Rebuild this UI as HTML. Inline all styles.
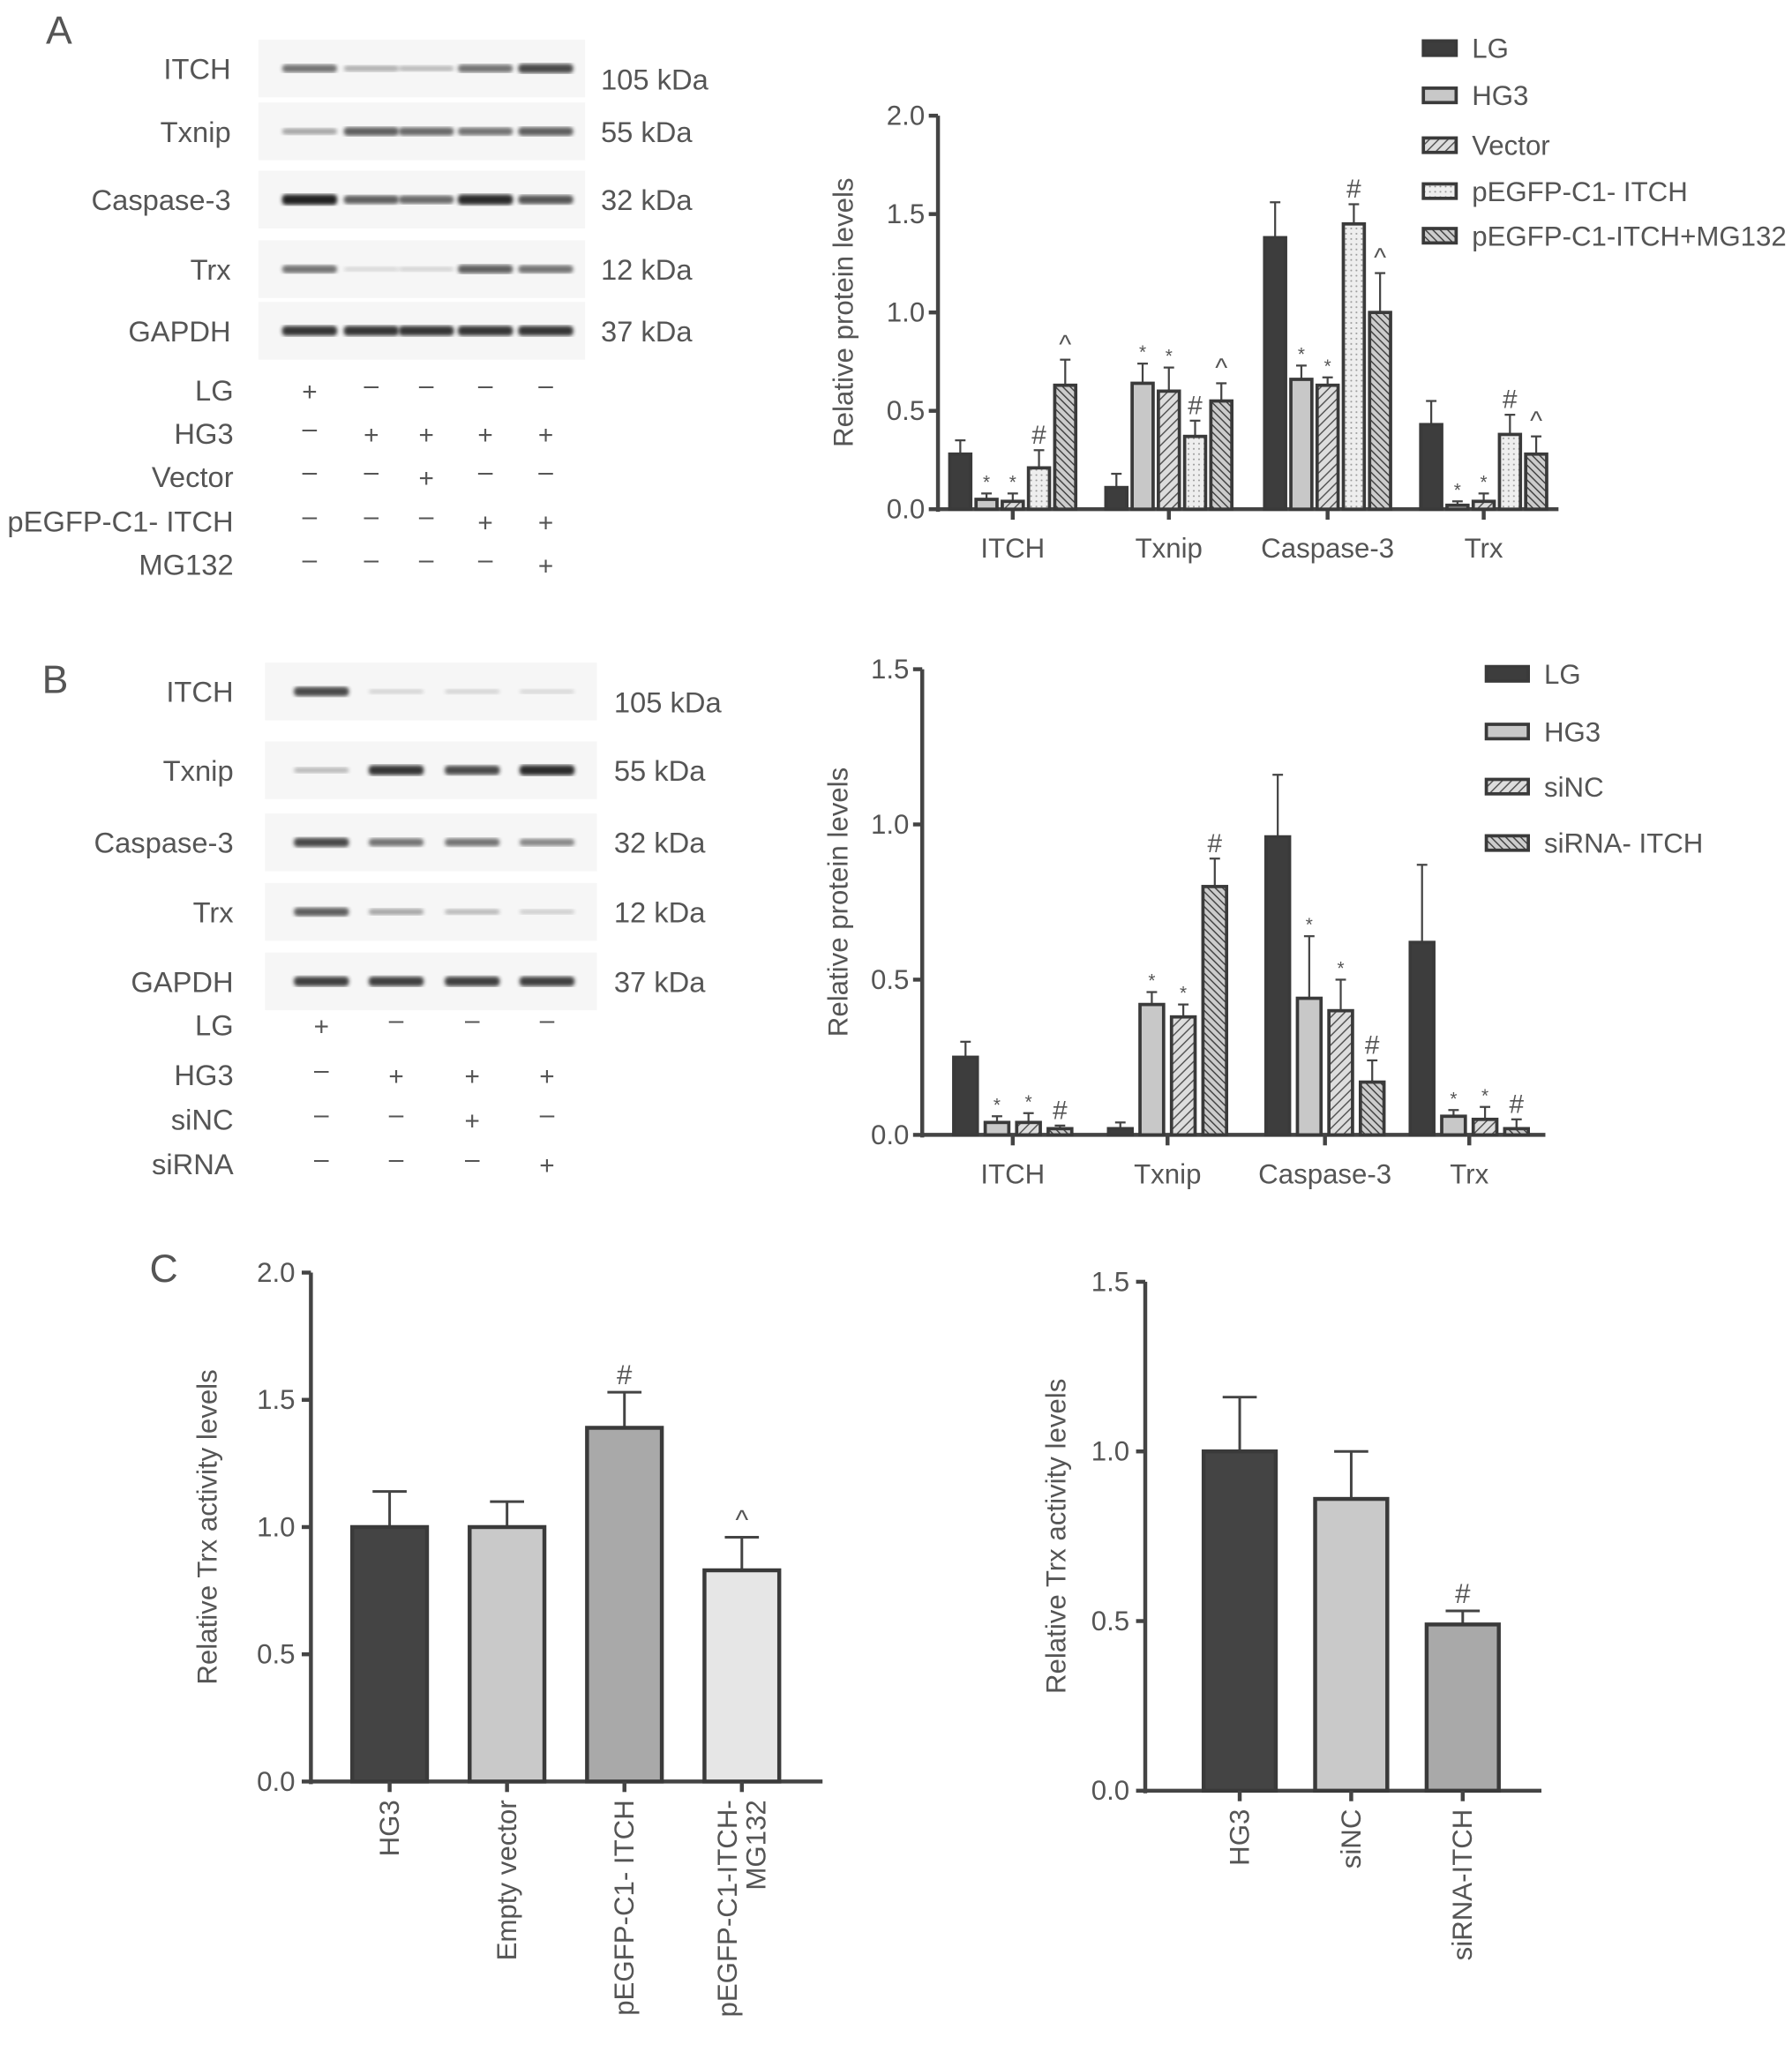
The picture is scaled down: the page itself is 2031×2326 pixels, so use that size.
<!DOCTYPE html>
<html><head><meta charset="utf-8"><style>
html,body{margin:0;padding:0;background:#fff}
svg{display:block}
text{font-family:"Liberation Sans",sans-serif;fill:#555}
</style></head><body>
<svg id="s" width="2031" height="2326" viewBox="0 0 1366 1564" xmlns="http://www.w3.org/2000/svg">
<defs>
<pattern id="hatchA" width="5" height="5" patternUnits="userSpaceOnUse" patternTransform="rotate(45)"><rect width="5" height="5" fill="#ddd"/><line x1="0" y1="0" x2="0" y2="5" stroke="#555" stroke-width="2"/></pattern>
<pattern id="hatchB" width="4" height="4" patternUnits="userSpaceOnUse" patternTransform="rotate(-45)"><rect width="4" height="4" fill="#ccc"/><line x1="0" y1="0" x2="0" y2="4" stroke="#444" stroke-width="2"/></pattern>
<pattern id="dots" width="4" height="4" patternUnits="userSpaceOnUse"><rect width="4" height="4" fill="#eee"/><circle cx="2" cy="2" r="0.7" fill="#999"/></pattern>
<filter id="blur"><feGaussianBlur stdDeviation="1.4"/></filter>
</defs>
<text x="35" y="33" font-size="30">A</text>
<text x="32" y="528" font-size="30">B</text>
<text x="114" y="977" font-size="30">C</text>
</svg>
<script>
const NS="http://www.w3.org/2000/svg";
const S=document.getElementById('s');
function mk(tag,attrs,parent){const e=document.createElementNS(NS,tag);for(const k in attrs)e.setAttribute(k,attrs[k]);(parent||S).appendChild(e);return e;}
function txt(x,y,s,size,anchor,parent){const t=mk('text',{x:x,y:y,'font-size':size,'text-anchor':anchor||'start'},parent);t.textContent=s;return t;}

// ---------- Data ----------
const catsAB=["ITCH","Txnip","Caspase-3","Trx"];
const seriesA=["LG","HG3","Vector","pEGFP-C1- ITCH","pEGFP-C1-ITCH+MG132"];
const aLG=[0.28,0.11,1.38,0.43];
const aHG3=[0.05,0.64,0.66,0.02];
const aVec=[0.04,0.60,0.63,0.04];
const aPE=[0.21,0.37,1.45,0.38];
const aMG=[0.63,0.55,1.00,0.28];
const aLGe=[0.07,0.07,0.18,0.12];
const aHG3e=[0.03,0.10,0.07,0.02];
const aVece=[0.04,0.12,0.04,0.04];
const aPEe=[0.09,0.08,0.10,0.10];
const aMGe=[0.13,0.09,0.20,0.09];
const aMarks=["","*","*","#","^"];
const yTicksA=["0.0","0.5","1.0","1.5","2.0"];

const seriesB=["LG","HG3","siNC","siRNA- ITCH"];
const bLG=[0.25,0.02,0.96,0.62];
const bHG3=[0.04,0.42,0.44,0.06];
const bNC=[0.04,0.38,0.40,0.05];
const bSi=[0.02,0.80,0.17,0.02];
const bLGe=[0.05,0.02,0.20,0.25];
const bHG3e=[0.02,0.04,0.20,0.02];
const bNCe=[0.03,0.04,0.10,0.04];
const bSie=[0.01,0.09,0.07,0.03];
const bMarks=["","*","*","#"];
const yTicksB=["0.0","0.5","1.0","1.5"];

const catsC1=["HG3","Empty vector","pEGFP-C1- ITCH","pEGFP-C1-ITCH-|MG132"];
const valsC1=[1.00,1.00,1.39,0.83];
const errC1=[0.14,0.10,0.14,0.13];
const marksC1=["","","#","^"];
const catsC2=["HG3","siNC","siRNA-ITCH"];
const valsC2=[1.00,0.86,0.49];
const errC2=[0.16,0.14,0.04];
const marksC2=["","","#"];

function grouped(cfg){
  const g=mk('g',{});
  
  
  const y=v=>cfg.y0-(v/cfg.max)*(cfg.y0-cfg.yTop);
  const ax=mk('line',{x1:cfg.ax,y1:cfg.yTop,x2:cfg.ax,y2:cfg.y0+2,stroke:'#444','stroke-width':3},g);
  
  const xa=mk('line',{x1:cfg.ax,y1:cfg.y0,x2:cfg.xEnd,y2:cfg.y0,stroke:'#444','stroke-width':3},g);
  
  cfg.ticks.forEach((t,i)=>{const v=parseFloat(t);const yy=y(v);
    mk('line',{x1:cfg.ax-7,y1:yy,x2:cfg.ax,y2:yy,stroke:'#444','stroke-width':3},g);
    const tl=txt(cfg.ax-10,yy+7,t,21,'end',g);});
  const yl=txt(0,0,cfg.ylabel,21,'middle',g);
  yl.setAttribute('transform',`translate(${cfg.ylx},${(cfg.y0+cfg.yTop)/2}) rotate(-90)`);
  
  const ns=cfg.vals.length;
  cfg.cats.forEach((c,ci)=>{
    const cx=cfg.centers[ci];
    mk('line',{x1:cx,y1:cfg.y0,x2:cx,y2:cfg.y0+8,stroke:'#444','stroke-width':3},g);
    const cl=txt(cx,cfg.y0+37,c,21,'middle',g);
    for(let s=0;s<ns;s++){
      const bx=cx+(s-(ns-1)/2)*cfg.step-cfg.bw/2;
      const v=cfg.vals[s][ci],e=cfg.errs[s][ci];
      const top=y(v+e);
      mk('line',{x1:bx+cfg.bw/2,y1:y(v),x2:bx+cfg.bw/2,y2:top,stroke:'#444','stroke-width':1.5},g);
      mk('line',{x1:bx+cfg.bw/2-4,y1:top,x2:bx+cfg.bw/2+4,y2:top,stroke:'#444','stroke-width':1.5},g);
      const r=mk('rect',{x:bx,y:y(v),width:cfg.bw,height:Math.max(0,cfg.y0-y(v)),fill:cfg.fills[s],stroke:'#3a3a3a','stroke-width':2.5},g);
      
      if(cfg.marks[s]){const m=txt(bx+cfg.bw/2,top-(cfg.marks[s]=='*'?4:5),cfg.marks[s],cfg.marks[s]=='*'?14:20,'middle',g);}
    }
  });
  cfg.series.forEach((s,i)=>{
    const ly=cfg.legY[i];
    const sw=mk('rect',{x:cfg.legX,y:ly-6,width:cfg.legW,height:11,fill:cfg.fills[i],stroke:'#3a3a3a','stroke-width':2.5},g);
    
    const lt=txt(cfg.legX+cfg.legW+12,ly+7,s,21,'start',g);
  });
}
grouped({name:'chart-a',ax:715,y0:388,yTop:88,max:2,xEnd:1188,ticks:yTicksA,ylabel:'Relative protein levels',ylx:650,
  cats:catsAB,centers:[772,891,1012,1131],step:20,bw:16,
  vals:[aLG,aHG3,aVec,aPE,aMG],errs:[aLGe,aHG3e,aVece,aPEe,aMGe],marks:aMarks,
  fills:['#3d3d3d','#c8c8c8','url(#hatchA)','url(#dots)','url(#hatchB)'],
  series:seriesA,legX:1085,legW:25,legY:[37,73,111,146,180]});
grouped({name:'chart-b',ax:703,y0:865,yTop:510,max:1.5,xEnd:1178,ticks:yTicksB,ylabel:'Relative protein levels',ylx:646,
  cats:catsAB,centers:[772,890,1010,1120],step:24,bw:18,
  vals:[bLG,bHG3,bNC,bSi],errs:[bLGe,bHG3e,bNCe,bSie],marks:bMarks,
  fills:['#3d3d3d','#c8c8c8','url(#hatchA)','url(#hatchB)'],
  series:seriesB,legX:1133,legW:32,legY:[514,558,600,643]});

function simple(cfg){
  const g=mk('g',{});
  
  
  const y=v=>cfg.y0-(v/cfg.max)*(cfg.y0-cfg.yTop);
  mk('line',{x1:cfg.ax,y1:cfg.yTop,x2:cfg.ax,y2:cfg.y0+2,stroke:'#444','stroke-width':3},g);
  mk('line',{x1:cfg.ax,y1:cfg.y0,x2:cfg.xEnd,y2:cfg.y0,stroke:'#444','stroke-width':3},g);
  cfg.ticks.forEach(t=>{const yy=y(parseFloat(t));
    mk('line',{x1:cfg.ax-7,y1:yy,x2:cfg.ax,y2:yy,stroke:'#444','stroke-width':3},g);
    const tl=txt(cfg.ax-12,yy+7,t,21,'end',g);});
  const yl=txt(0,0,'Relative Trx activity levels',21,'middle',g);
  yl.setAttribute('transform',`translate(${cfg.ylx},${(cfg.y0+cfg.yTop)/2}) rotate(-90)`);
  
  cfg.cats.forEach((c,i)=>{
    const cx=cfg.x0+i*cfg.step,v=cfg.vals[i],e=cfg.errs[i],top=y(v+e);
    mk('line',{x1:cx,y1:y(v),x2:cx,y2:top,stroke:'#444','stroke-width':2},g);
    mk('line',{x1:cx-13,y1:top,x2:cx+13,y2:top,stroke:'#444','stroke-width':2},g);
    const r=mk('rect',{x:cx-cfg.bw/2,y:y(v),width:cfg.bw,height:cfg.y0-y(v),fill:cfg.fills[i],stroke:'#3a3a3a','stroke-width':3},g);
    
    mk('line',{x1:cx,y1:cfg.y0,x2:cx,y2:cfg.y0+8,stroke:'#444','stroke-width':3},g);
    if(cfg.marks[i]){const m=txt(cx,top-6,cfg.marks[i],21,'middle',g);}
    const lines=c.split('|');
    lines.forEach((ln,k)=>{const off=(k-(lines.length-1)/2)*22;
      const t=txt(0,0,ln,21,'end',g);
      t.setAttribute('transform',`translate(${cx+7+off},${cfg.y0+14}) rotate(-90)`);
      });
  });
}
simple({name:'chart-c-left',ax:237,y0:1358,yTop:970,max:2,xEnd:627,ticks:["0.0","0.5","1.0","1.5","2.0"],ylx:165,
  cats:catsC1,vals:valsC1,errs:errC1,marks:marksC1,x0:297,step:89.5,bw:57,fills:['#444','#c9c9c9','#a9a9a9','#e6e6e6']});
simple({name:'chart-c-right',ax:873,y0:1365,yTop:977,max:1.5,xEnd:1175,ticks:["0.0","0.5","1.0","1.5"],ylx:812,
  cats:catsC2,vals:valsC2,errs:errC2,marks:marksC2,x0:945,step:85,bw:55,fills:['#444','#c9c9c9','#a9a9a9']});

const blotA=["ITCH","Txnip","Caspase-3","Trx","GAPDH"];
const kdaA=["105 kDa","55 kDa","32 kDa","12 kDa","37 kDa"];
const bandA=[[0.6,0.3,0.25,0.6,0.8],[0.35,0.7,0.65,0.6,0.7],[1,0.7,0.65,0.95,0.75],[0.6,0.1,0.12,0.7,0.6],[0.9,0.9,0.9,0.9,0.9]];
const condA=["LG","HG3","Vector","pEGFP-C1- ITCH","MG132"];
const signA=["+----","-++++","--+--","---++","----+"];
const blotB=["ITCH","Txnip","Caspase-3","Trx","GAPDH"];
const kdaB=["105 kDa","55 kDa","32 kDa","12 kDa","37 kDa"];
const bandB=[[0.8,0.12,0.12,0.1],[0.25,0.9,0.8,0.95],[0.8,0.6,0.6,0.5],[0.7,0.35,0.25,0.15],[0.85,0.85,0.85,0.85]];
const condB=["LG","HG3","siNC","siRNA"];
const signB=["+---","-+++","--+-","---+"];
function blot(cfg){
  const g=mk('g',{});
  
  
  cfg.rows.forEach((r,i)=>{const yc=cfg.rowY[i];
    const bg=mk('rect',{x:cfg.bx0,y:yc-22,width:cfg.bx1-cfg.bx0,height:44,fill:'#f6f6f6'},g);
    
    cfg.lanes.forEach((lx,j)=>{const a=cfg.bands[i][j];
      mk('rect',{x:lx-21,y:yc-1.5-a*2.5,width:42,height:3+a*5,rx:3,fill:'#222',opacity:Math.min(1,a*0.95+0.05),filter:'url(#blur)'},g);});
    const l=txt(cfg.lblX,yc+8,r,22,'end',g);
    const k=txt(cfg.kX,yc+8+(i==0?cfg.kOff:0),cfg.kda[i],22,'start',g);
  });
  cfg.conds.forEach((c,i)=>{const yc=cfg.condY[i];
    const l=txt(178,yc+8,c,22,'end',g);
    cfg.lanes.forEach((lx,j)=>{const s=cfg.signs[i][j];
      const t=txt(lx,yc+(s=='+'?8:3),s=='+'?'+':'–',20,'middle',g);});
  });
}
blot({name:'western-blot-a',rows:blotA,kda:kdaA,bands:bandA,rowY:[52,100,152,205,252],bx0:197,bx1:446,lanes:[236,283,325,370,416],lblX:176,kX:458,kOff:8,conds:condA,signs:signA,condY:[297,330,363,397,430]});
blot({name:'western-blot-b',rows:blotB,kda:kdaB,bands:bandB,rowY:[527,587,642,695,748],bx0:202,bx1:455,lanes:[245,302,360,417],lblX:178,kX:468,kOff:8,conds:condB,signs:signB,condY:[781,819,853,887]});
</script>
</body></html>
